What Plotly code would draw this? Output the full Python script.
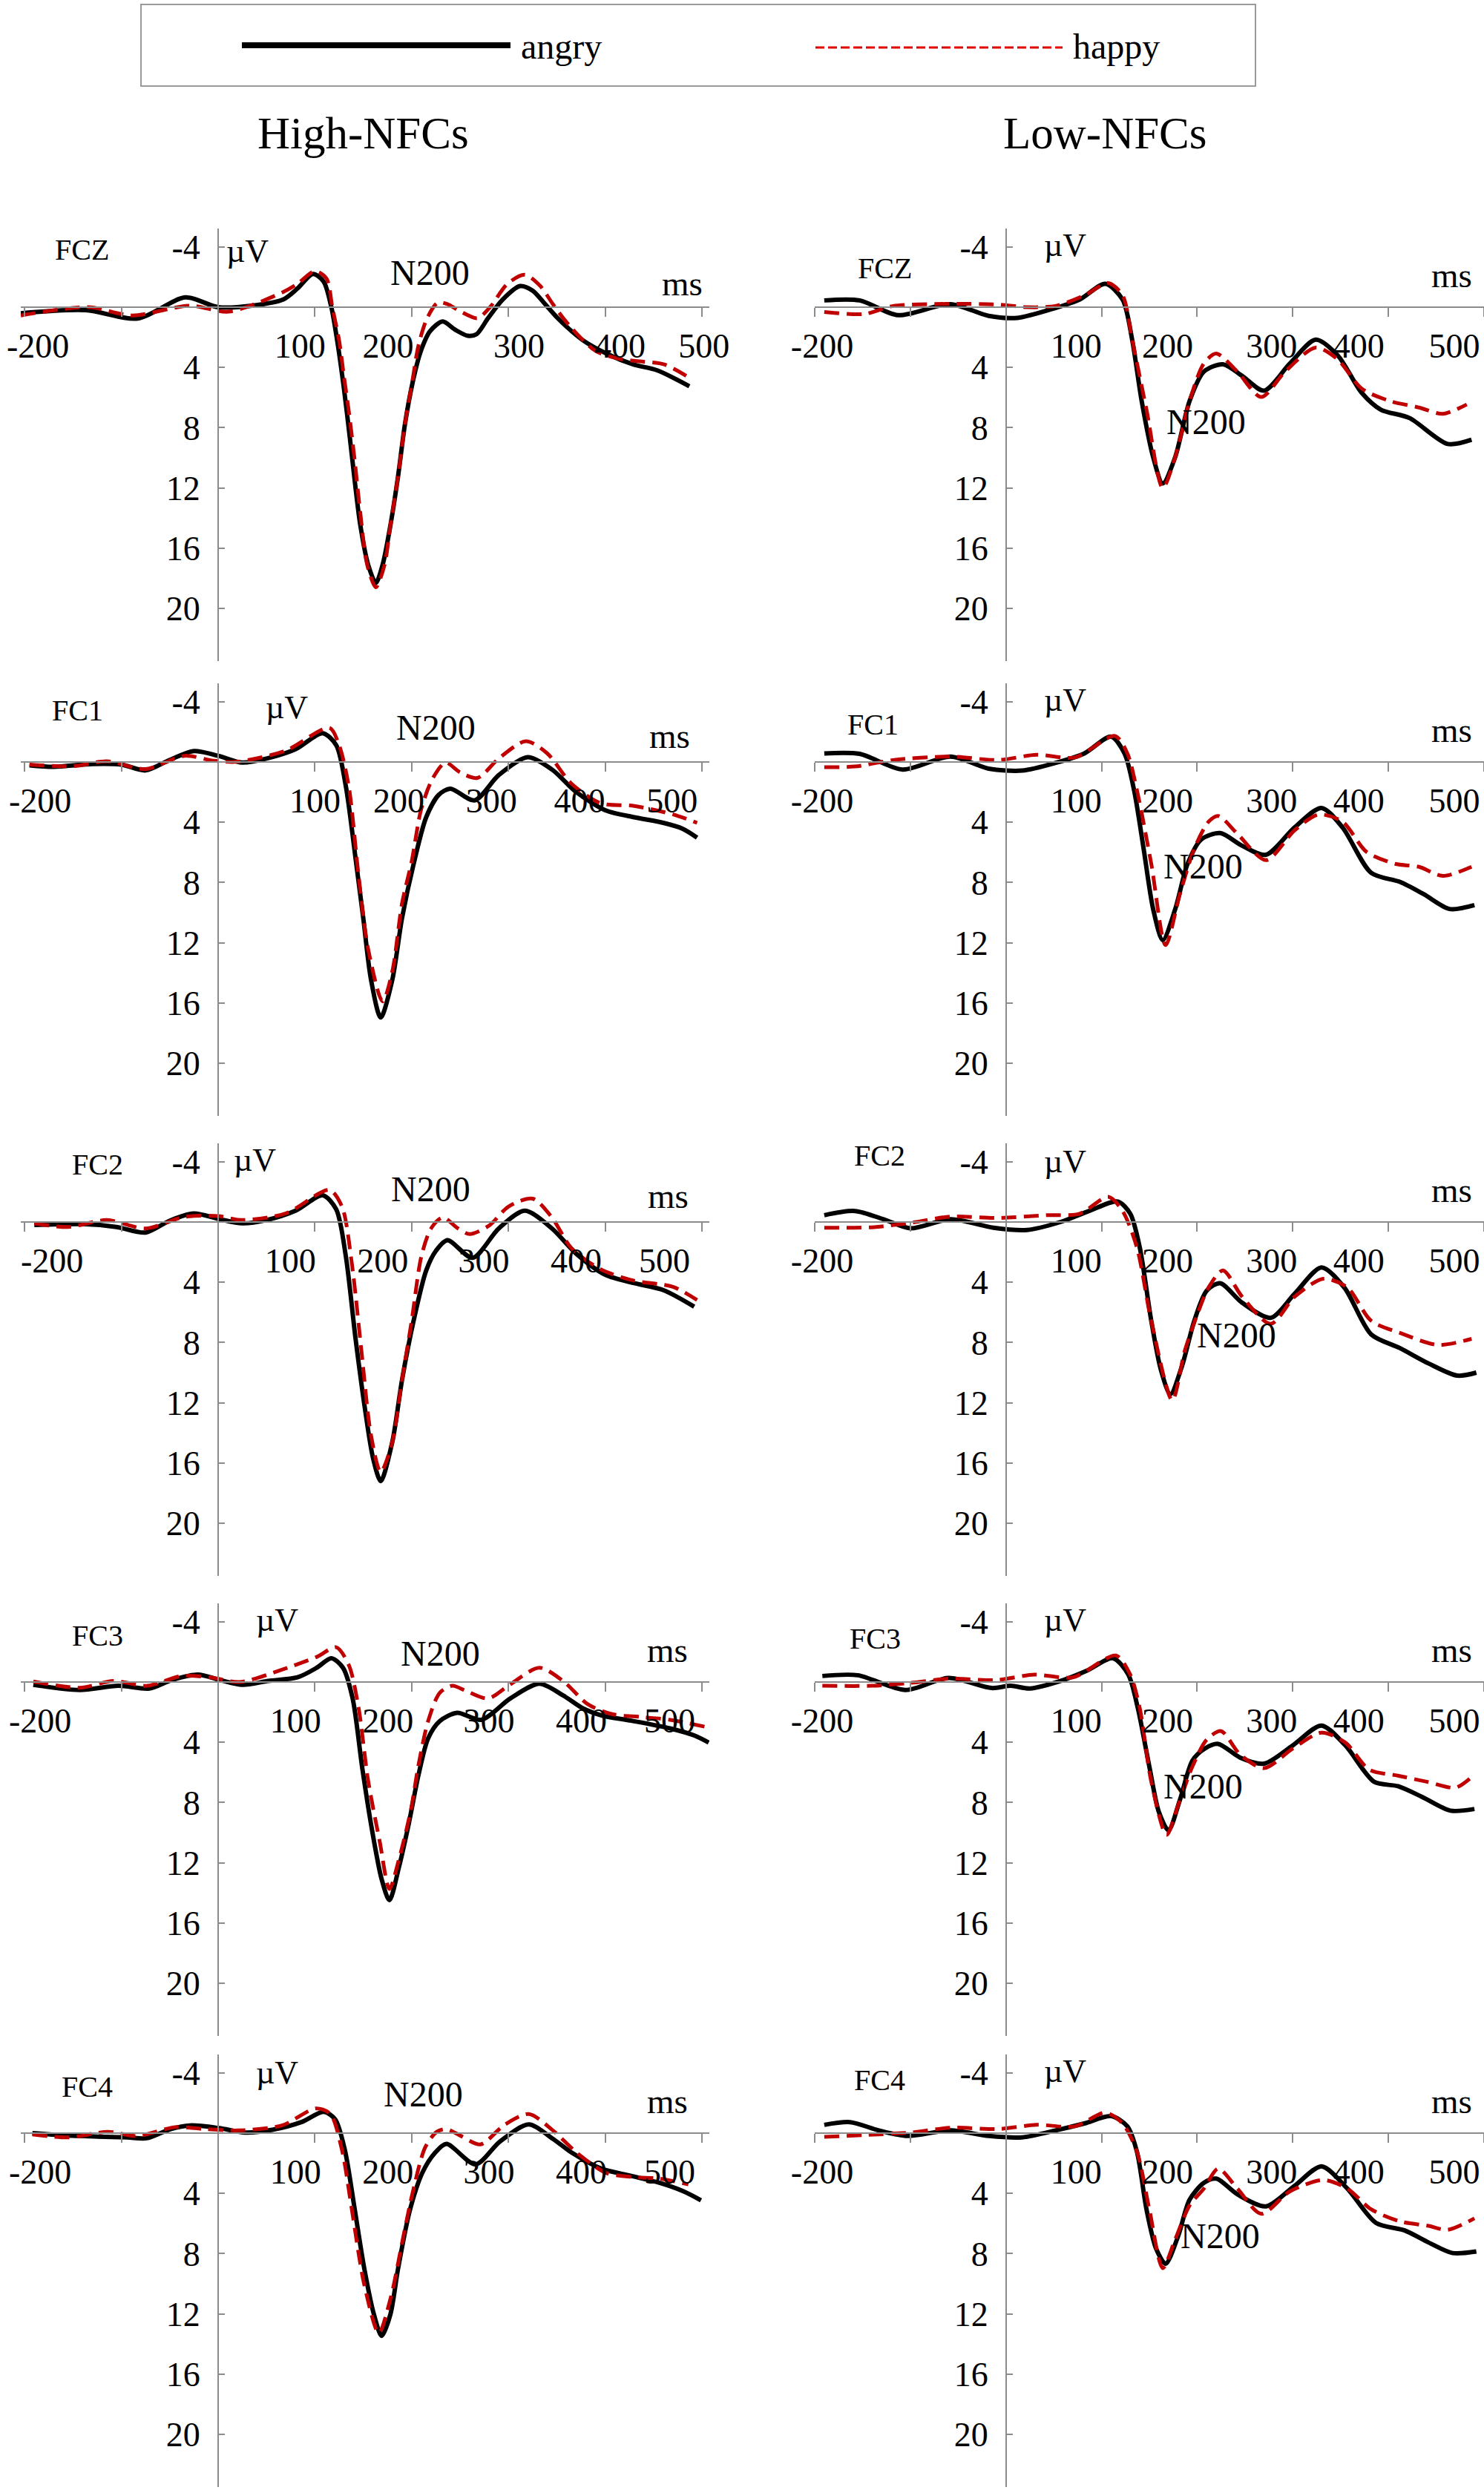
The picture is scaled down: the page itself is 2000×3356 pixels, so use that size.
import plotly.graph_objects as go

# ---------------- data (ms, µV) ----------------
# High-NFCs
high_fcz_angry_ms = [-204,-137,-83,-34,0,35,67,82,98,109,117,123,130,136,142,147,155,163,170,178,186,193,201,209,219,232,245,258,267,279,294,312,325,338,351,377,402,429,454,487]
high_fcz_angry_uv = [0.4,0.2,0.75,-0.65,0,-0.1,-0.5,-1.24,-2.2,-1.7,0,2.2,5.4,8.6,12.0,14.5,17.1,18.3,17.1,14.5,11.2,7.8,5.0,3.0,1.6,0.95,1.5,1.9,1.8,0.73,-0.5,-1.4,-1.1,-0.2,0.73,2.2,3.1,3.8,4.2,5.25]
high_fcz_happy_ms = [-204,-134,-89,-29,11,67,82,100,112,118,125,130,135,141,147,154,163,172,178,186,193,201,207,216,227,237,250,268,281,299,317,333,346,364,390,416,436,461,490]
high_fcz_happy_uv = [0.55,0,0.55,-0.1,0.3,-1.0,-1.55,-2.4,-1.9,0,2.2,4.6,6.9,10.1,13.7,17.1,18.6,17.1,14.5,11.2,7.8,4.8,2.55,0.73,-0.3,-0.2,0.27,0.73,0,-1.55,-2.15,-1.4,-0.2,1.3,2.9,3.45,3.6,3.8,4.8]

high_fc1_angry_ms = [-195,-170,-130,-100,-75,-50,-25,0,25,50,80,108,122,132,142,150,158,168,180,190,202,215,228,240,265,290,320,345,370,400,430,460,480,495]
high_fc1_angry_uv = [0.22,0.32,0.13,0.17,0.56,-0.14,-0.73,-0.41,0.04,-0.23,-0.85,-1.91,-1.12,1.62,6.39,10.38,14.46,16.96,14.46,10.38,6.78,3.67,2.18,1.77,2.55,0.87,-0.32,0.5,1.99,3.2,3.67,4.04,4.43,5.02]
high_fc1_happy_ms = [-195,-150,-115,-75,-35,-5,20,70,115,125,135,145,155,170,180,190,200,210,222,235,250,268,290,318,340,365,395,430,470,495]
high_fc1_happy_uv = [0.17,0.28,-0.05,0.47,-0.41,-0.09,-0.02,-0.76,-2.27,-1.12,1.62,7.47,12.41,15.9,13.9,9.4,6.6,3.1,1.06,0.04,0.69,1.06,-0.23,-1.38,-0.58,1.43,2.73,2.92,3.48,4.04]

high_fc2_angry_ms = [-190,-140,-105,-75,-50,-25,0,25,50,80,108,122,132,142,152,160,168,180,190,202,215,225,237,263,290,317,345,370,400,430,460,492]
high_fc2_angry_uv = [0.2,0.14,0.33,0.7,-0.09,-0.57,-0.21,0.09,-0.13,-0.75,-1.77,-0.84,2.29,7.74,12.52,15.65,17.2,14.6,10.5,6.56,3.22,1.92,1.21,2.38,0.43,-0.75,0.43,2.1,3.5,4.06,4.52,5.62]
high_fc2_happy_ms = [-190,-155,-115,-75,-35,0,25,70,115,128,138,148,158,168,180,190,200,210,220,232,248,260,280,300,325,345,365,395,430,470,495]
high_fc2_happy_uv = [0.09,0.33,-0.13,0.43,-0.34,-0.39,-0.13,-0.57,-2.13,-1.02,2.66,8.5,14.17,16.6,14.6,10.5,6.56,2.29,0.43,-0.3,0.43,0.8,0.24,-1.02,-1.55,-0.3,1.73,3.13,3.9,4.3,5.18]

high_fc3_angry_ms = [-191,-143,-103,-71,-48,-21,2,25,52,82,102,117,129,139,149,159,169,177,187,197,207,217,229,247,272,302,332,357,377,397,427,467,492,507]
high_fc3_angry_uv = [0.19,0.53,0.25,0.43,-0.13,-0.49,-0.13,0.19,-0.07,-0.31,-0.95,-1.58,-0.95,1.09,5.73,9.81,13.1,14.48,12.25,9.41,6.19,3.74,2.6,2.04,2.51,1.09,0.11,0.91,1.75,2.23,2.57,3.08,3.55,4.02]
high_fc3_happy_ms = [-191,-143,-108,-73,-38,-8,22,62,102,122,135,145,155,167,177,187,199,207,217,229,242,257,279,302,332,357,382,407,437,467,504]
high_fc3_happy_uv = [-0.04,0.38,-0.07,0.25,-0.4,-0.31,0,-0.73,-1.67,-2.31,-1.13,1.66,6.54,10.59,13.74,11.74,8.55,5.53,2.6,0.72,0.25,0.62,1.09,0.15,-0.95,-0.04,1.47,2.13,2.32,2.51,2.98]

high_fc4_angry_ms = [-192,-159,-124,-94,-74,-49,-29,1,28,56,86,109,121,131,141,151,161,169,178,186,198,211,224,236,266,291,321,346,366,396,426,456,481,499]
high_fc4_angry_uv = [0,0.15,0.23,0.28,0.34,-0.27,-0.51,-0.33,-0.04,-0.22,-0.73,-1.42,-0.91,1.13,5.0,8.98,12.04,13.46,12.04,8.98,5.16,2.64,1.32,0.72,2.08,0.57,-0.58,0.38,1.32,2.36,2.83,3.3,3.87,4.46]
high_fc4_happy_ms = [-192,-154,-114,-84,-44,-14,21,66,101,116,128,138,151,166,178,191,201,214,226,236,251,271,296,321,346,371,401,431,456,486]
high_fc4_happy_uv = [0.09,0.28,-0.09,0.19,-0.4,-0.27,-0.18,-0.51,-1.64,-1.27,1.13,5.0,10.06,13.27,11.02,7.0,3.96,0.94,-0.09,-0.27,0.19,0.75,-0.55,-1.27,-0.18,1.32,2.64,2.92,3.02,3.4]

# Low-NFCs
low_fcz_angry_ms = [-190,-153,-113,-58,-18,12,52,77,104,122,132,142,154,164,177,192,207,227,247,270,297,324,347,372,392,422,462,487]
low_fcz_angry_uv = [-0.45,-0.45,0.53,-0.2,0.58,0.71,0.05,-0.5,-1.55,-0.5,2.16,6.24,9.96,11.7,9.96,6.24,4.28,3.79,4.56,5.54,3.74,2.16,3.2,5.68,6.8,7.36,9.08,8.8]
low_fcz_happy_ms = [-190,-148,-118,-58,-8,22,52,82,107,122,132,147,164,177,192,207,220,242,267,292,324,347,372,402,432,457,482]
low_fcz_happy_uv = [0.32,0.45,-0.08,-0.22,-0.17,0,-0.08,-0.78,-1.6,-0.78,2.16,6.8,12.0,9.96,6.24,3.74,3.08,4.28,5.96,4.28,2.68,3.47,5.4,6.24,6.66,7.08,6.46]

low_fc1_angry_ms = [-190,-153,-108,-58,-18,17,52,82,110,124,134,144,154,164,177,190,204,224,247,272,302,330,352,382,412,437,464,490]
low_fc1_angry_uv = [-0.57,-0.54,0.5,-0.36,0.44,0.57,0.06,-0.57,-1.68,-0.57,1.87,5.76,9.78,11.83,9.78,6.76,5.16,4.72,5.56,6.16,4.34,3.05,4.34,7.36,7.96,8.78,9.76,9.5]
low_fc1_happy_ms = [-190,-158,-118,-58,-8,32,72,114,127,137,152,167,182,197,212,222,242,272,302,327,352,377,407,432,457,487]
low_fc1_happy_uv = [0.34,0.3,-0.13,-0.36,-0.13,-0.48,-0.3,-1.73,-0.57,1.87,6.76,12.16,8.76,5.76,3.96,3.58,4.76,6.52,4.53,3.49,3.96,5.96,6.76,6.96,7.56,6.96]

low_fc2_angry_ms = [-190,-158,-128,-100,-58,-13,22,57,87,117,130,140,152,162,172,184,197,210,224,247,277,302,330,354,382,412,442,472,492]
low_fc2_angry_uv = [-0.45,-0.73,-0.18,0.42,-0.18,0.38,0.53,0,-0.73,-1.36,-0.55,1.7,6.56,9.8,11.43,9.59,6.56,4.56,4.06,5.36,6.36,4.76,3.02,4.36,7.46,8.37,9.39,10.2,10.0]
low_fc2_happy_ms = [-190,-138,-98,-58,-8,42,77,107,122,137,152,174,187,200,212,227,247,277,302,332,357,382,412,452,487]
low_fc2_happy_uv = [0.38,0.34,0.04,-0.36,-0.27,-0.45,-0.55,-1.67,-0.73,1.7,6.56,11.84,8.56,6.16,4.34,3.21,4.96,6.76,4.96,3.77,4.34,6.56,7.36,8.16,7.76]

low_fc3_angry_ms = [-192,-155,-105,-60,-15,5,25,60,85,112,128,138,150,160,170,182,195,208,222,245,270,300,330,355,385,410,435,465,490]
low_fc3_angry_uv = [-0.4,-0.45,0.53,-0.27,0.4,0.25,0.43,-0.13,-0.76,-1.58,-0.49,1.75,5.62,8.64,9.84,7.82,5.22,4.42,4.11,5.02,5.42,4.21,2.89,4.21,6.62,6.92,7.62,8.54,8.43]
low_fc3_happy_ms = [-192,-140,-100,-60,-10,30,70,115,130,140,152,168,180,195,210,225,245,270,300,330,355,380,410,440,470,485]
low_fc3_happy_uv = [0.25,0.25,0.06,-0.22,-0.13,-0.49,-0.31,-1.76,-0.49,1.75,6.62,10.15,8.21,5.62,3.83,3.26,4.82,5.72,4.42,3.36,4.02,5.82,6.22,6.62,7.02,6.42]

low_fc4_angry_ms = [-190,-163,-133,-103,-58,-18,17,52,82,110,127,137,147,157,167,180,192,207,220,242,272,302,330,357,387,417,442,467,492]
low_fc4_angry_uv = [-0.55,-0.73,-0.18,0.19,-0.18,0.19,0.28,-0.18,-0.64,-1.13,-0.45,1.23,5.06,7.66,8.67,6.86,4.43,3.3,3.02,4.06,4.86,3.49,2.21,3.68,5.96,6.46,7.26,7.96,7.86]
low_fc4_happy_ms = [-190,-148,-98,-58,-8,32,72,104,122,137,150,164,177,192,207,222,242,267,297,332,357,382,412,442,462,490]
low_fc4_happy_uv = [0.25,0.13,-0.05,-0.36,-0.27,-0.55,-0.45,-1.36,-0.64,1.23,5.06,8.96,7.06,4.81,3.68,2.36,3.68,5.36,3.87,3.11,3.68,5.06,5.86,6.16,6.42,5.66]

channels = ["FCZ", "FC1", "FC2", "FC3", "FC4"]
groups = ["High-NFCs", "Low-NFCs"]
conditions = ["angry", "happy"]
x_tick_values = [-200, -100, 0, 100, 200, 300, 400, 500]
x_tick_labels = ["-200", "", "", "100", "200", "300", "400", "500"]
y_tick_values = [-4, 0, 4, 8, 12, 16, 20]
y_tick_labels = ["-4", "", "4", "8", "12", "16", "20"]

series = {
    (0, "FCZ"): ((high_fcz_angry_ms, high_fcz_angry_uv), (high_fcz_happy_ms, high_fcz_happy_uv)),
    (0, "FC1"): ((high_fc1_angry_ms, high_fc1_angry_uv), (high_fc1_happy_ms, high_fc1_happy_uv)),
    (0, "FC2"): ((high_fc2_angry_ms, high_fc2_angry_uv), (high_fc2_happy_ms, high_fc2_happy_uv)),
    (0, "FC3"): ((high_fc3_angry_ms, high_fc3_angry_uv), (high_fc3_happy_ms, high_fc3_happy_uv)),
    (0, "FC4"): ((high_fc4_angry_ms, high_fc4_angry_uv), (high_fc4_happy_ms, high_fc4_happy_uv)),
    (1, "FCZ"): ((low_fcz_angry_ms, low_fcz_angry_uv), (low_fcz_happy_ms, low_fcz_happy_uv)),
    (1, "FC1"): ((low_fc1_angry_ms, low_fc1_angry_uv), (low_fc1_happy_ms, low_fc1_happy_uv)),
    (1, "FC2"): ((low_fc2_angry_ms, low_fc2_angry_uv), (low_fc2_happy_ms, low_fc2_happy_uv)),
    (1, "FC3"): ((low_fc3_angry_ms, low_fc3_angry_uv), (low_fc3_happy_ms, low_fc3_happy_uv)),
    (1, "FC4"): ((low_fc4_angry_ms, low_fc4_angry_uv), (low_fc4_happy_ms, low_fc4_happy_uv)),
}

# ---------------- layout / style ----------------
W, H = 2000, 3356
FONT = "Liberation Serif"
AX = "#8c8c8c"
BLACK = "#000000"
RED = "#C00000"

# pixel geometry (page pixels)
col_x_range = [[-204, 508], [-200, 500]]
col_px_per_ms = [1.304, 1.29]
col_zero_px = [294, 1356]
row_zero_px = [414, 1027, 1647, 2267, 2875]
px_per_uv = 20.3
y_range = [23.5, -5.2]

# hand-placed look of the x tick labels (as in the source figure):
# px shift of the first label, px shift of the other labels,
# and small per-label nudges in no-break spaces (+ before, - after)
first_label_shift = {(0, 0): 18, (0, 1): 21, (0, 2): 37, (0, 3): 21, (0, 4): 21}
label_shift = {(0, 0): -3, (0, 1): -23, (0, 2): -39, (0, 3): -32, (0, 4): -32}
label_nudge = {
    (0, 0): [0, 0, 0, -3, -5, 3, 4, 1],
    (0, 1): [0, 0, 0, 4, 1, 0, -2, -3],
    (0, 2): [0, 0, 0, 1, 0, 1, 0, -2],
    (0, 3): [0, 0, 0, 1, 0, 1, 0, -2],
    (0, 4): [0, 0, 0, 1, 0, 1, 0, -2],
}
for _r in range(5):
    first_label_shift[(1, _r)] = 10
    label_shift[(1, _r)] = -40
    label_nudge[(1, _r)] = [0, 0, 0, 1, 0, 2, 0, 0]


def nudge(text, n):
    if not text or n == 0:
        return text
    pad = "\u00a0" * abs(n)
    return pad + text if n > 0 else text + pad


# annotation positions in data units per panel: (channel, µV, N200, ms)
label_pos = {
    (0, 0): [(-141, -3.8), (30, -3.7), (219, -2.3), (480, -1.6)],
    (0, 1): [(-145, -3.4), (71, -3.6), (225, -2.3), (467, -1.7)],
    (0, 2): [(-125, -3.8), (38, -4.1), (220, -2.2), (465, -1.7)],
    (0, 3): [(-125, -3.1), (61, -4.1), (230, -1.9), (464, -2.1)],
    (0, 4): [(-135, -3.1), (61, -4.0), (212, -2.6), (464, -2.1)],
    (1, 0): [(-127, -2.6), (62, -4.1), (209, 7.6), (466, -2.1)],
    (1, 1): [(-139, -2.5), (62, -4.1), (206, 6.9), (466, -2.1)],
    (1, 2): [(-132, -4.4), (62, -4.0), (241, 7.5), (466, -2.1)],
    (1, 3): [(-137, -2.9), (62, -4.1), (206, 6.9), (466, -2.1)],
    (1, 4): [(-132, -3.5), (62, -4.1), (224, 6.8), (466, -2.1)],
}

fig = go.Figure()
layout = dict(
    width=W, height=H, margin=dict(l=0, r=0, t=0, b=0, pad=0, autoexpand=False),
    paper_bgcolor="white", plot_bgcolor="white",
    showlegend=False, font=dict(family=FONT, color="black"),
)
annotations = []
shapes = []
tickfont = dict(family=FONT, size=46, color="black")

for r, ch in enumerate(channels):
    for c in range(2):
        n = r * 2 + c + 1
        xa = "x" if n == 1 else f"x{n}"
        ya = "y" if n == 1 else f"y{n}"
        xa2 = f"x{n + 10}"
        xr = col_x_range[c]
        x0_px = col_zero_px[c] + xr[0] * col_px_per_ms[c]
        x1_px = col_zero_px[c] + xr[1] * col_px_per_ms[c]
        top_px = row_zero_px[r] + y_range[1] * px_per_uv
        bot_px = row_zero_px[r] + y_range[0] * px_per_uv
        xdom = [x0_px / W, min(x1_px / W, 1.0)]
        xpos = 1 - row_zero_px[r] / H
        ticktext = [nudge(t, k) if i > 0 else "" for i, (t, k) in
                    enumerate(zip(x_tick_labels, label_nudge[(c, r)]))]
        layout[f"xaxis{'' if n == 1 else n}"] = dict(
            domain=xdom, range=xr, anchor="free", position=xpos, automargin=False,
            showgrid=False, zeroline=False, showline=True, linecolor=AX, linewidth=2,
            ticks="outside", ticklen=12, tickwidth=2, tickcolor=AX,
            tickvals=x_tick_values, ticktext=ticktext, tickangle=0, tickfont=tickfont,
            ticklabelstandoff=0, ticklabelshift=label_shift[(c, r)], ticklabeloverflow="allow",
        )
        # companion axis carrying only the first tick label (-200), placed on its own
        layout[f"xaxis{n + 10}"] = dict(
            domain=xdom, range=xr, anchor="free", position=xpos, overlaying=xa, side="bottom",
            automargin=False, showgrid=False, zeroline=False, showline=False,
            ticks="outside", ticklen=12, tickwidth=0, tickcolor="rgba(0,0,0,0)",
            tickvals=[x_tick_values[0]], ticktext=[x_tick_labels[0]], tickangle=0, tickfont=tickfont,
            ticklabelstandoff=0, ticklabelshift=first_label_shift[(c, r)], ticklabeloverflow="allow",
        )
        layout[f"yaxis{'' if n == 1 else n}"] = dict(
            domain=[1 - bot_px / H, 1 - top_px / H], range=y_range,
            anchor="free", position=col_zero_px[c] / W, automargin=False,
            showgrid=False, zeroline=False, showline=True, linecolor=AX, linewidth=2,
            ticks="inside", ticklen=8, tickwidth=2, tickcolor=AX,
            tickvals=y_tick_values, ticktext=y_tick_labels, tickangle=0, tickfont=tickfont,
            ticklabelstandoff=14, ticklabeloverflow="allow",
        )
        (am, av), (hm, hv) = series[(c, ch)]
        fig.add_trace(go.Scatter(x=am, y=av, mode="lines", name="angry",
                                 line=dict(color=BLACK, width=6, shape="spline", smoothing=0.8),
                                 xaxis=xa, yaxis=ya))
        fig.add_trace(go.Scatter(x=hm, y=hv, mode="lines", name="happy",
                                 line=dict(color=RED, width=5, dash="20px,10px", shape="spline", smoothing=0.8),
                                 xaxis=xa, yaxis=ya))
        # empty trace so that the companion label axis is drawn
        fig.add_trace(go.Scatter(x=[], y=[], mode="lines", hoverinfo="skip",
                                 xaxis=xa2, yaxis=ya))
        pos = label_pos[(c, r)]
        texts = [(ch, 40), ("\u00b5V", 44), ("N200", 48), ("ms", 47)]
        for (tx, sz), (px, py) in zip(texts, pos):
            annotations.append(dict(x=px, y=py, xref=xa, yref=ya, text=tx, showarrow=False,
                                    font=dict(family=FONT, size=sz, color="black"),
                                    xanchor="center", yanchor="middle"))

# group titles
annotations.append(dict(x=489 / W, y=1 - 180 / H, xref="paper", yref="paper", text=groups[0],
                        showarrow=False, font=dict(family=FONT, size=61, color="black"),
                        xanchor="center", yanchor="middle"))
annotations.append(dict(x=1489 / W, y=1 - 180 / H, xref="paper", yref="paper", text=groups[1],
                        showarrow=False, font=dict(family=FONT, size=61, color="black"),
                        xanchor="center", yanchor="middle"))

# legend box (drawn manually to match the long line samples)
shapes.append(dict(type="rect", xref="paper", yref="paper", x0=190 / W, x1=1692 / W,
                   y0=1 - 116 / H, y1=1 - 6 / H, line=dict(color="#9a9a9a", width=2), fillcolor="white", layer="below"))
shapes.append(dict(type="line", xref="paper", yref="paper", x0=326 / W, x1=688 / W,
                   y0=1 - 61 / H, y1=1 - 61 / H, line=dict(color=BLACK, width=8)))
shapes.append(dict(type="line", xref="paper", yref="paper", x0=1099 / W, x1=1432 / W,
                   y0=1 - 64 / H, y1=1 - 64 / H, line=dict(color="#E00000", width=3, dash="12px,5px")))
annotations.append(dict(x=700 / W, y=1 - 62 / H, xref="paper", yref="paper", text=conditions[0],
                        showarrow=False, font=dict(family=FONT, size=48, color="black"),
                        xanchor="left", yanchor="middle"))
annotations.append(dict(x=1444 / W, y=1 - 62 / H, xref="paper", yref="paper", text=conditions[1],
                        showarrow=False, font=dict(family=FONT, size=48, color="black"),
                        xanchor="left", yanchor="middle"))

layout["annotations"] = annotations
layout["shapes"] = shapes
fig.update_layout(**layout)

fig.write_html("out.html", config={"displayModeBar": False},
               post_script="document.body.style.margin='0px';document.body.style.overflow='hidden';")
